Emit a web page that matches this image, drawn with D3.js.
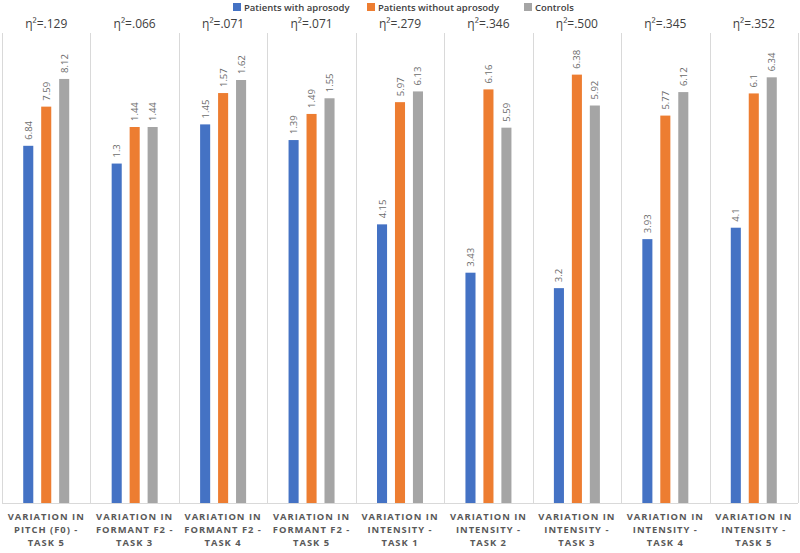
<!DOCTYPE html>
<html><head><meta charset="utf-8">
<script src="https://cdn.jsdelivr.net/npm/d3@7"></script>
<style>body{margin:0;background:#fff}svg{display:block}</style>
</head><body>
<script>
const categories = [
  ["VARIATION IN","PITCH (F0) -","TASK 5"],
  ["VARIATION IN","FORMANT F2 -","TASK 3"],
  ["VARIATION IN","FORMANT F2 -","TASK 4"],
  ["VARIATION IN","FORMANT F2 -","TASK 5"],
  ["VARIATION IN","INTENSITY -","TASK 1"],
  ["VARIATION IN","INTENSITY -","TASK 2"],
  ["VARIATION IN","INTENSITY -","TASK 3"],
  ["VARIATION IN","INTENSITY -","TASK 4"],
  ["VARIATION IN","INTENSITY -","TASK 5"]
];
const seriesNames = ["Patients with aprosody","Patients without aprosody","Controls"];
const withAprosody = [6.84, 1.3, 1.45, 1.39, 4.15, 3.43, 3.2, 3.93, 4.1];
const withoutAprosody = [7.59, 1.44, 1.57, 1.49, 5.97, 6.16, 6.38, 5.77, 6.1];
const controls = [8.12, 1.44, 1.62, 1.55, 6.13, 5.59, 5.92, 6.12, 6.34];
const etaSquared = [".129", ".066", ".071", ".071", ".279", ".346", ".500", ".345", ".352"];
const panelMax = [9, 1.8, 1.8, 1.8, 7, 7, 7, 7, 7];
const colors = ["#4472C4", "#ED7D31", "#A5A5A5"];

const W = 800, H = 553;
const svg = d3.select("body").append("svg").attr("width", W).attr("height", H);
const plotTop = 33, plotBottom = 503;
const series = [withAprosody, withoutAprosody, controls];

const x = d3.scaleBand().domain(d3.range(categories.length)).range([2, 798]).padding(0);
const pw = x.bandwidth();
const xi = d3.scaleBand().domain(d3.range(3)).range([pw/2 - 23, pw/2 + 23]).paddingInner(0.44).paddingOuter(0);

// dividers
svg.append("g").selectAll("line").data(d3.range(categories.length + 1)).join("line")
  .attr("x1", d => Math.round(d < categories.length ? x(d) : x(d-1) + pw) + 0.5)
  .attr("x2", d => Math.round(d < categories.length ? x(d) : x(d-1) + pw) + 0.5)
  .attr("y1", plotTop).attr("y2", plotBottom)
  .attr("stroke", "#d9d9d9").attr("stroke-width", 1);

// axis line
svg.append("line").attr("x1", 2).attr("x2", 798).attr("y1", plotBottom + 0.5).attr("y2", plotBottom + 0.5)
  .attr("stroke", "#d9d9d9").attr("stroke-width", 1);

categories.forEach((cat, i) => {
  const y = d3.scaleLinear().domain([0, panelMax[i]]).range([plotBottom, plotTop]);
  const g = svg.append("g").attr("transform", `translate(${x(i)},0)`);
  const vals = series.map(s => s[i]);
  g.selectAll("rect").data(vals).join("rect")
    .attr("x", (d, j) => xi(j)).attr("width", xi.bandwidth())
    .attr("y", d => y(d)).attr("height", d => plotBottom - y(d))
    .attr("fill", (d, j) => colors[j]);
  g.selectAll("text.val").data(vals).join("text").attr("class", "val")
    .attr("transform", (d, j) => `translate(${xi(j) + xi.bandwidth()/2 + 3.5},${y(d) - 6}) rotate(-90)`)
    .attr("text-anchor", "start")
    .attr("font-family", "Open Sans, sans-serif").attr("font-size", 9.5)
    .attr("fill", "#6b6b6b")
    .text(d => String(d));
  g.append("text").attr("x", pw/2).attr("y", 28).attr("text-anchor", "middle")
    .attr("font-family", "Open Sans, sans-serif").attr("font-size", 12).attr("fill", "#404040")
    .text("η²=" + etaSquared[i]);
  cat.forEach((line, k) => {
    g.append("text").attr("x", pw/2).attr("y", 520 + k * 13).attr("text-anchor", "middle")
      .attr("font-family", "Open Sans, sans-serif").attr("font-size", 9.4).attr("font-weight", 700)
      .attr("letter-spacing", 1).attr("fill", "#595959")
      .text(line);
  });
});

// legend
const legendX = [233, 367, 524];
const lg = svg.append("g");
seriesNames.forEach((n, j) => {
  lg.append("rect").attr("x", legendX[j]).attr("y", 3).attr("width", 8).attr("height", 8).attr("fill", colors[j]);
  lg.append("text").attr("x", legendX[j] + 11).attr("y", 11)
    .attr("font-family", "Open Sans, sans-serif").attr("font-size", 9.5).attr("font-weight", 600)
    .attr("fill", "#404040").text(n);
});
</script>
</body></html>
